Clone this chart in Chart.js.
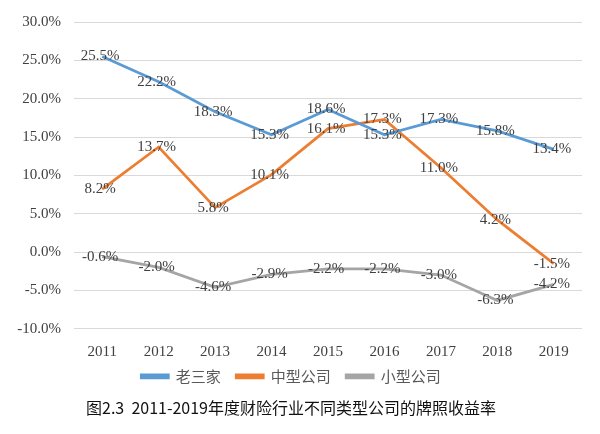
<!DOCTYPE html>
<html>
<head>
<meta charset="utf-8">
<script src="https://cdn.jsdelivr.net/npm/chart.js@4"></script>
<style>
  html, body { margin: 0; padding: 0; background: #fff; }
  #wrap { width: 600px; height: 434px; position: relative; }
</style>
</head>
<body>
<div id="wrap"><canvas id="lineChart"></canvas></div>
<script>
const years = ['2011', '2012', '2013', '2014', '2015', '2016', '2017', '2018', '2019'];
const bigThree = [25.5, 22.2, 18.3, 15.3, 18.6, 15.3, 17.3, 15.8, 13.4];
const midSize = [8.2, 13.7, 5.8, 10.1, 16.1, 17.3, 11.0, 4.2, -1.5];
const smallSize = [-0.6, -2.0, -4.6, -2.9, -2.2, -2.2, -3.0, -6.3, -4.2];
const seriesNames = ['老三家', '中型公司', '小型公司'];
const yTicks = [-10, -5, 0, 5, 10, 15, 20, 25, 30];

const serif = '"Liberation Serif", "Times New Roman", serif';
const cjk = '"Noto Sans CJK SC", sans-serif';

// draws the value on top of every point
const pointLabels = {
  id: 'pointLabels',
  afterDatasetsDraw(chart) {
    const ctx = chart.ctx;
    ctx.save();
    ctx.font = '15px ' + serif;
    ctx.fillStyle = '#404040';
    ctx.textAlign = 'center';
    ctx.textBaseline = 'middle';
    chart.data.datasets.forEach((ds, i) => {
      chart.getDatasetMeta(i).data.forEach((pt, j) => {
        ctx.fillText(ds.data[j].toFixed(1) + '%', pt.x - 2, pt.y)
      });
    });
    ctx.restore();
  }
};

const ctx = document.getElementById('lineChart').getContext('2d');
new Chart(ctx, {
  type: 'line',
  data: {
    labels: years,
    datasets: [
      { label: seriesNames[0], data: bigThree, borderColor: '#5b9bd5', backgroundColor: '#5b9bd5' },
      { label: seriesNames[1], data: midSize, borderColor: '#ed7d31', backgroundColor: '#ed7d31' },
      { label: seriesNames[2], data: smallSize, borderColor: '#a5a5a5', backgroundColor: '#a5a5a5' }
    ].map(d => Object.assign(d, { borderWidth: 2.75, pointRadius: 0, tension: 0, fill: false }))
  },
  options: {
    responsive: true,
    maintainAspectRatio: false,
    animation: false,
    layout: { padding: { top: 10, right: 18, left: 0, bottom: 10 } },
    scales: {
      x: {
        offset: true,
        grid: { display: false },
        border: { display: false },
        ticks: { color: '#404040', font: { family: serif, size: 15 }, padding: 6 }
      },
      y: {
        min: -10,
        max: 30,
        afterBuildTicks: scale => { scale.ticks = yTicks.map(v => ({ value: v })); },
        afterFit: scale => { scale.width = 74; },
        grid: { color: '#d9d9d9', drawTicks: false },
        border: { display: false },
        ticks: {
          color: '#404040',
          font: { family: serif, size: 15 },
          padding: 13,
          callback: v => v.toFixed(1) + '%'
        }
      }
    },
    plugins: {
      legend: {
        display: true,
        position: 'bottom',
        labels: {
          boxWidth: 27,
          boxHeight: 3,
          padding: 2,
          color: '#595959',
          font: { family: cjk, size: 15 },
          generateLabels: chart => Chart.defaults.plugins.legend.labels.generateLabels(chart)
            .map((item, i, all) => Object.assign(item, { text: i < all.length - 1 ? item.text + '    ' : item.text }))
        }
      },
      title: {
        display: true,
        position: 'bottom',
        text: '图2.3  2011-2019年度财险行业不同类型公司的牌照收益率',
        color: '#111',
        font: { family: cjk, size: 16, weight: 'normal' },
        padding: { top: 5, bottom: 6 }
      },
      tooltip: { enabled: false }
    }
  },
  plugins: [pointLabels]
});
</script>
</body>
</html>
